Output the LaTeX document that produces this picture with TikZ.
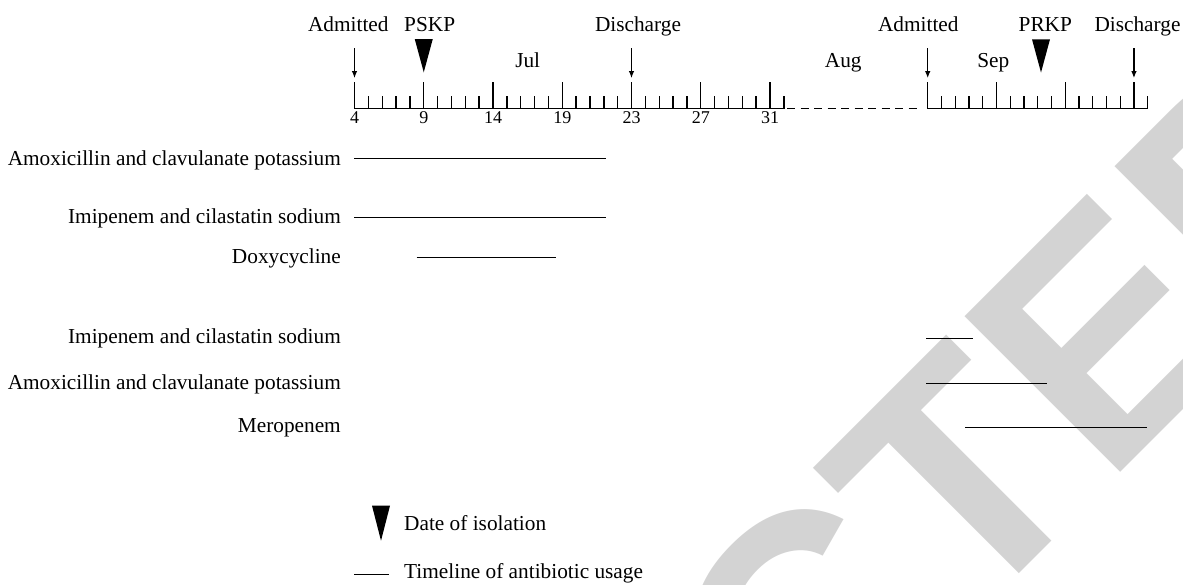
\documentclass[tikz,border=0pt]{standalone}
\usepackage{fontspec}
\setmainfont{Liberation Serif}
\newfontfamily\stampfont{Liberation Sans}
\usetikzlibrary{arrows.meta,positioning}
\definecolor{stampgray}{HTML}{D3D3D3}

\begin{document}
\begin{tikzpicture}[>={Latex[length=7pt,width=5.5pt]},x=1pt,y=-1pt,font=\fontsize{21.3}{25}\selectfont]
  \tikzstyle{lbl}=[inner sep=0pt]
  \tikzstyle{daylbl}=[inner sep=0pt,anchor=base,font=\fontsize{18}{20}\selectfont]
  \tikzstyle{axis}=[line width=1.4pt]
  \tikzstyle{usage}=[line width=1.5pt]
  \useasboundingbox (0,0) rectangle (1183,584);

  % grey stamp lying under the chart
  \begin{scope}
    \clip (0,0) rectangle (1183,584);
    \node[lbl,anchor=base west,rotate=45,text=stampgray,
      font=\stampfont\bfseries\fontsize{320}{320}\selectfont] (stamp) at (24,1569) {RETRACTED};
  \end{scope}

  % July scale, days 4 to 31 (long tick every 5th)
  \draw[axis] (354.5,108.5) -- ({354.5+13.85*31},108.5);
  \foreach \i in {0,...,31} {
    \pgfmathsetmacro\len{mod(\i,5)==0 ? 27 : 13}
    \draw[axis] ({354.5+13.85*\i},108.5) -- ++(0,-\len);
  }
  \foreach \i/\d in {0/4,5/9,10/14,15/19,20/23,25/27,30/31} {
    \coordinate (t\d) at ({354.5+13.85*\i},81.5);
    \node[daylbl] (d\d) at ({354.5+13.85*\i},123.5) {\d};
  }

  % August left out
  \draw[axis,dash pattern=on 8pt off 5.5pt] (787,108.5) -- (917,108.5);

  % September scale
  \draw[axis] (927.7,108.5) -- ({927.7+13.75*16},108.5);
  \foreach \i in {0,...,16} {
    \pgfmathsetmacro\len{mod(\i,5)==0 ? 27 : 13}
    \draw[axis] ({927.7+13.75*\i},108.5) -- ++(0,-\len);
  }
  \foreach \i in {0,5,10,15}
    \coordinate (s\i) at ({927.7+13.75*\i},81.5);

  % months
  \node[lbl,anchor=base] (jul) at (527.7,67) {Jul};
  \node[lbl,anchor=base] (aug) at (843.3,67) {Aug};
  \node[lbl,anchor=base] (sep) at (993.3,67) {Sep};

  % events
  \node[lbl,anchor=base] (adm1) at (348.3,31.7) {Admitted};
  \node[lbl,anchor=base] (pskp) at (429.7,31.7) {PSKP};
  \node[lbl,anchor=base] (dis1) at (638,31.7) {Discharge};
  \node[lbl,anchor=base] (adm2) at (918.3,31.7) {Admitted};
  \node[lbl,anchor=base] (prkp) at (1045.3,31.7) {PRKP};
  \node[lbl,anchor=base] (dis2) at (1137.5,31.7) {Discharge};
  \draw[->,line width=1.2pt] ([yshift=33.4pt]t4) -- ([yshift=3.4pt]t4);
  \draw[->,line width=1.2pt] ([yshift=33.4pt]t23) -- ([yshift=3.4pt]t23);
  \draw[->,line width=1.2pt] ([yshift=33.4pt]s0) -- ([yshift=3.4pt]s0);
  \draw[->,line width=1.2pt] ([yshift=33.4pt]s15) -- ([yshift=3.4pt]s15);
  \fill ([xshift=-9pt,yshift=42.4pt]t9) -- ([xshift=9pt,yshift=42.4pt]t9) -- ([yshift=9.2pt]t9) -- cycle;
  \fill (1032,39.3) -- (1050,39.3) -- (1041,72.5) -- cycle;

  % first stay
  \node[lbl,anchor=base east] (amox1) at (341,165) {Amoxicillin and clavulanate potassium};
  \draw[usage] (354,158.5) -- (606,158.5);
  \node[lbl,anchor=base east] (imi1) at (341,223.4) {Imipenem and cilastatin sodium};
  \draw[usage] (354,217.5) -- (606,217.5);
  \node[lbl,anchor=base east] (doxy) at (341,263.3) {Doxycycline};
  \draw[usage] (416.7,257.5) -- (556,257.5);

  % second stay
  \node[lbl,anchor=base east] (imi2) at (341,343.3) {Imipenem and cilastatin sodium};
  \draw[usage] (926,338.5) -- (973.3,338.5);
  \node[lbl,anchor=base east] (amox2) at (341,389.5) {Amoxicillin and clavulanate potassium};
  \draw[usage] (926,383.5) -- (1046.7,383.5);
  \node[lbl,anchor=base east] (mero) at (341,432.8) {Meropenem};
  \draw[usage] (965,427.5) -- (1146.7,427.5);

  % key
  \fill (372,505.7) -- (390,505.7) -- (381,540.7) -- cycle;
  \node[lbl,anchor=base west] (keyiso) at (404,530) {Date of isolation};
  \draw[usage] (354,574.5) -- (389.3,574.5);
  \node[lbl,anchor=base west] (keyuse) at (404,578.5) {Timeline of antibiotic usage};
\end{tikzpicture}
\end{document}
